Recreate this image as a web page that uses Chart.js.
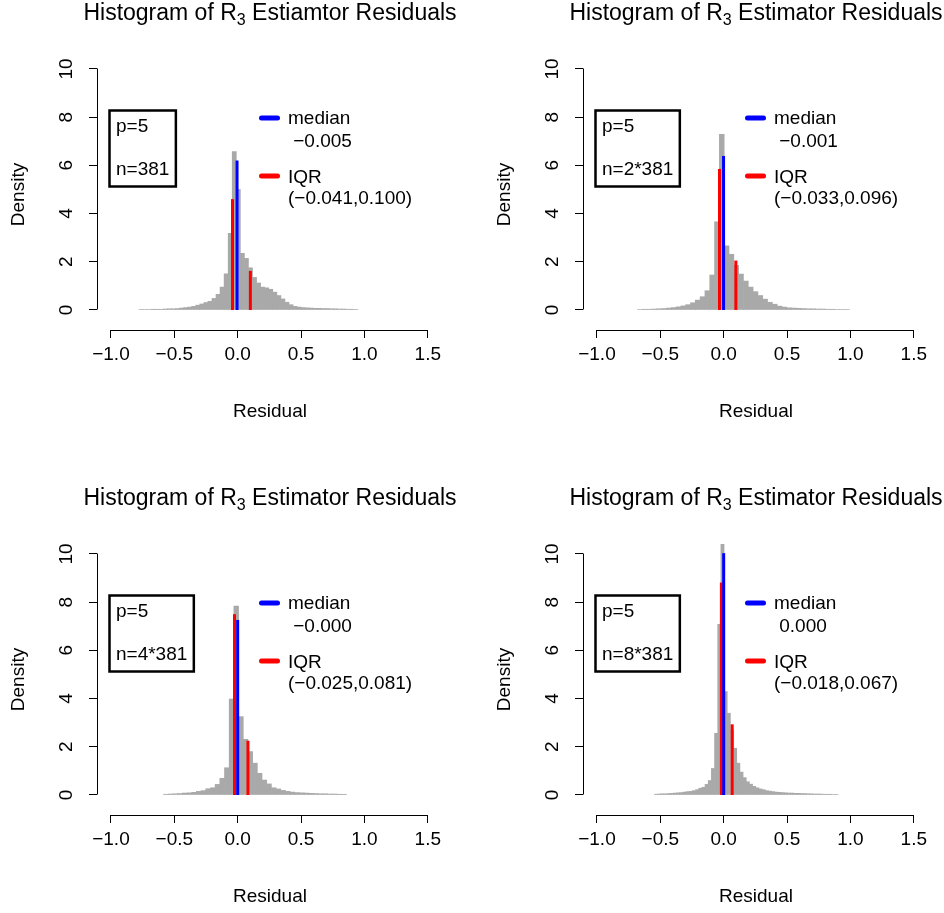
<!DOCTYPE html>
<html>
<head>
<meta charset="utf-8">
<title>Histogram of R3 Estimator Residuals</title>
<script src="https://cdn.jsdelivr.net/npm/chart.js@4/dist/chart.umd.min.js"></script>
<style>
  html, body { margin: 0; padding: 0; background: #fff; }
  #page { position: relative; width: 944px; height: 913px; overflow: hidden; }
  #page canvas { position: absolute; }
</style>
</head>
<body>
<div id="page"></div>
<script>
const FONT = '"Liberation Sans", Arial, Helvetica, sans-serif';

// --- axes ---
const xTicks = [-1.0, -0.5, 0.0, 0.5, 1.0, 1.5];
const yTicks = [0, 2, 4, 6, 8, 10];

// --- titles / legend text ---
const titleHead = 'Histogram of R';
const titleSub = '3';
const titleTails = [' Estiamtor Residuals', ' Estimator Residuals', ' Estimator Residuals', ' Estimator Residuals'];
const pLabel = 'p=5';
const nLabels = ['n=381', 'n=2*381', 'n=4*381', 'n=8*381'];
const medianText = [' \u22120.005', ' \u22120.001', ' \u22120.000', ' 0.000'];
const iqrText = ['(\u22120.041,0.100)', '(\u22120.033,0.096)', '(\u22120.025,0.081)', '(\u22120.018,0.067)'];

// --- summary lines (x position, drawn height) ---
const medians = [-0.005, -0.001, -0.000, 0.000];
const medianTops = [6.2, 6.39, 7.26, 10.03];
const iqrLow = [-0.041, -0.033, -0.025, -0.018];
const iqrLowTops = [4.6, 5.85, 7.5, 8.81];
const iqrHigh = [0.100, 0.096, 0.081, 0.067];
const iqrHighTops = [1.62, 2.05, 2.25, 2.93];

// --- histogram bins: first break, bin width, densities ---
const binStart1 = -0.779, binWidth1 = 0.032;
const density1 = [0.02, 0.02, 0.02, 0.03, 0.03, 0.03, 0.04, 0.05, 0.05, 0.06,
  0.08, 0.10, 0.12, 0.15, 0.20, 0.25, 0.31, 0.36, 0.48, 0.65,
  0.95, 1.50, 3.18, 6.57, 5.00, 2.35, 2.14, 1.75, 1.35, 1.12,
  0.95, 0.92, 0.86, 0.74, 0.60, 0.46, 0.32, 0.22, 0.15, 0.12,
  0.10, 0.09, 0.08, 0.07, 0.07, 0.06, 0.06, 0.05, 0.05, 0.04,
  0.04, 0.03, 0.03, 0.02];

const binStart2 = -0.680, binWidth2 = 0.038;
const density2 = [0.02, 0.03, 0.03, 0.04, 0.05, 0.06, 0.08, 0.10, 0.13, 0.17,
  0.22, 0.30, 0.41, 0.55, 0.80, 1.45, 3.66, 7.29, 2.66, 2.31,
  1.85, 1.49, 1.20, 0.95, 0.76, 0.60, 0.45, 0.32, 0.24, 0.16,
  0.12, 0.09, 0.08, 0.07, 0.06, 0.05, 0.05, 0.04, 0.04, 0.03,
  0.03, 0.02, 0.02, 0.02];

const binStart3 = -0.585, binWidth3 = 0.037;
const density3 = [0.03, 0.04, 0.05, 0.06, 0.08, 0.09, 0.11, 0.15, 0.18, 0.26,
  0.30, 0.44, 0.69, 1.13, 3.98, 7.84, 3.25, 2.31, 1.80, 1.32,
  0.90, 0.62, 0.46, 0.30, 0.25, 0.19, 0.15, 0.12, 0.10, 0.09,
  0.08, 0.07, 0.06, 0.05, 0.05, 0.04, 0.04, 0.03, 0.03];

const binStart4 = -0.547, binWidth4 = 0.025;
const density4 = [0.03, 0.04, 0.05, 0.05, 0.06, 0.07, 0.08, 0.09, 0.10, 0.12,
  0.14, 0.15, 0.18, 0.22, 0.28, 0.32, 0.44, 0.60, 1.10, 2.56,
  7.08, 10.45, 4.29, 3.39, 2.70, 1.94, 1.32, 0.95, 0.72, 0.55,
  0.45, 0.36, 0.30, 0.25, 0.22, 0.18, 0.16, 0.14, 0.12, 0.11,
  0.10, 0.09, 0.08, 0.08, 0.07, 0.07, 0.06, 0.06, 0.05, 0.05,
  0.04, 0.04, 0.04, 0.03, 0.03, 0.03, 0.02, 0.02];

const bins = [
  { start: binStart1, width: binWidth1, dens: density1 },
  { start: binStart2, width: binWidth2, dens: density2 },
  { start: binStart3, width: binWidth3, dens: density3 },
  { start: binStart4, width: binWidth4, dens: density4 },
];

const PANEL_W = 486, PANEL_H = 485;
const GRAY = '#A9A9A9';

function fmtX(v) {
  return (v < 0 ? '\u2212' : '') + Math.abs(v).toFixed(1);
}

function align(p) {
  return Math.round(p - 0.5) + 0.5;
}

// R-style decorations: short axis lines, title with subscript, two legends
const rDecor = {
  id: 'rdecor',
  afterDraw(chart, args, o) {
    const { ctx, chartArea: a, scales: { x, y } } = chart;
    ctx.save();

    // axis lines only over the tick range
    ctx.strokeStyle = '#000';
    ctx.lineWidth = 1;
    ctx.beginPath();
    const by = align(a.bottom);
    ctx.moveTo(align(x.getPixelForValue(xTicks[0])), by);
    ctx.lineTo(align(x.getPixelForValue(xTicks[xTicks.length - 1])), by);
    const lx = align(a.left);
    ctx.moveTo(lx, align(y.getPixelForValue(yTicks[0])));
    ctx.lineTo(lx, align(y.getPixelForValue(yTicks[yTicks.length - 1])));
    ctx.stroke();

    // title
    ctx.fillStyle = '#000';
    ctx.textAlign = 'left';
    ctx.textBaseline = 'alphabetic';
    const big = `23px ${FONT}`, small = `16px ${FONT}`;
    ctx.font = big;
    const w1 = ctx.measureText(titleHead).width;
    const w3 = ctx.measureText(o.tail).width;
    ctx.font = small;
    const w2 = ctx.measureText(titleSub).width;
    const cx = (a.left + a.right) / 2;
    let tx = cx - (w1 + w2 + w3) / 2;
    const ty = 20;
    ctx.font = big;
    ctx.fillText(titleHead, tx, ty);
    ctx.font = small;
    ctx.fillText(titleSub, tx + w1, ty + 5);
    ctx.font = big;
    ctx.fillText(o.tail, tx + w1 + w2, ty);

    // p / n box
    ctx.font = `19px ${FONT}`;
    const nw = Math.max(ctx.measureText(o.n).width, ctx.measureText(pLabel).width);
    ctx.lineWidth = 2.5;
    ctx.strokeRect(109.5, 110.5, nw + 13, 76);
    ctx.fillText(pLabel, 116, 131.5);
    ctx.fillText(o.n, 116, 175);

    // median / IQR legend
    ctx.lineWidth = 5;
    ctx.lineCap = 'round';
    ctx.strokeStyle = '#0000FF';
    ctx.beginPath(); ctx.moveTo(261.5, 118); ctx.lineTo(277.5, 118); ctx.stroke();
    ctx.strokeStyle = '#FF0000';
    ctx.beginPath(); ctx.moveTo(261.5, 176); ctx.lineTo(277.5, 176); ctx.stroke();
    ctx.fillText('median', 288, 124);
    ctx.fillText(o.med, 288, 146.5);
    ctx.fillText('IQR', 288, 182.5);
    ctx.fillText(o.iqr, 288, 204);

    ctx.restore();
  }
};

function vline(xv, top, color) {
  return {
    type: 'line',
    data: [{ x: xv, y: 0 }, { x: xv, y: top }],
    borderColor: color,
    borderWidth: 3,
    borderCapStyle: 'butt',
    pointRadius: 0,
    order: 0,
  };
}

function makePanel(i) {
  const page = document.getElementById('page');
  const canvas = document.createElement('canvas');
  canvas.width = PANEL_W;
  canvas.height = PANEL_H;
  canvas.style.left = (i % 2) * PANEL_W + 'px';
  canvas.style.top = Math.floor(i / 2) * PANEL_H + 'px';
  page.appendChild(canvas);

  const b = bins[i];
  const bars = b.dens.map((d, k) => ({ x: b.start + b.width * (k + 0.5), y: d }));

  const tickFont = { family: FONT, size: 19 };
  const grid = { display: true, drawOnChartArea: false, drawTicks: true, tickLength: 8, color: '#000', lineWidth: 1, offset: false };

  new Chart(canvas, {
    type: 'bar',
    data: {
      datasets: [
        vline(medians[i], medianTops[i], '#0000FF'),
        vline(iqrLow[i], iqrLowTops[i], '#FF0000'),
        vline(iqrHigh[i], iqrHighTops[i], '#FF0000'),
        {
          type: 'bar',
          data: bars,
          backgroundColor: GRAY,
          borderWidth: 0,
          barPercentage: 1,
          categoryPercentage: 1,
          order: 1,
        },
      ],
    },
    options: {
      responsive: false,
      animation: false,
      layout: { padding: { left: 0, top: 59, right: 43, bottom: 0 } },
      plugins: {
        legend: { display: false },
        tooltip: { enabled: false },
        rdecor: { tail: titleTails[i], n: nLabels[i], med: medianText[i], iqr: iqrText[i] },
      },
      scales: {
        x: {
          type: 'linear',
          min: -1.11,
          max: 1.62,
          offset: false,
          afterBuildTicks: s => { s.ticks = xTicks.map(v => ({ value: v })); },
          afterFit: s => { s.height = 155; },
          grid,
          border: { display: false },
          ticks: { color: '#000', font: tickFont, padding: 5, maxRotation: 0, autoSkip: false, callback: v => fmtX(v) },
          title: { display: true, text: 'Residual', color: '#000', font: tickFont, padding: { top: 0, bottom: 62 } },
        },
        y: {
          type: 'linear',
          min: -0.83,
          max: 10.41,
          afterBuildTicks: s => { s.ticks = yTicks.map(v => ({ value: v })); },
          afterFit: s => { s.width = 97; },
          grid,
          border: { display: false },
          ticks: { color: '#000', font: tickFont, padding: 12, minRotation: 90, maxRotation: 90, crossAlign: 'center', autoSkip: false, callback: v => String(v) },
          title: { display: true, text: 'Density', color: '#000', font: tickFont, padding: { top: 7, bottom: 0 } },
        },
      },
    },
    plugins: [rDecor],
  });
}

for (let i = 0; i < 4; i++) makePanel(i);
</script>
</body>
</html>
